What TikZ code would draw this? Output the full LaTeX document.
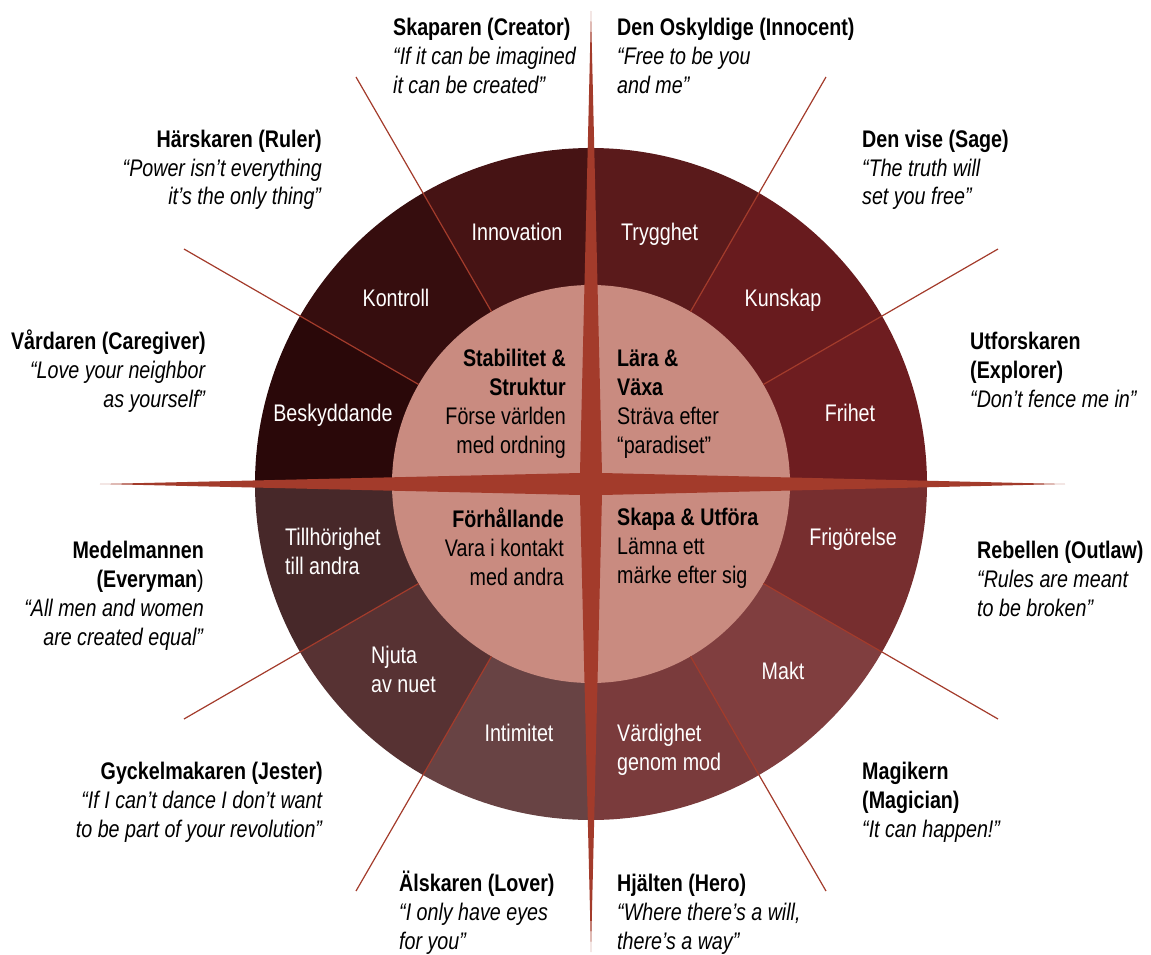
\documentclass[tikz,border=0pt]{standalone}
\usepackage{fontspec}
\setmainfont{Liberation Sans}[FakeStretch=0.82]
\usepackage{tikz}
\usetikzlibrary{calc, positioning}

\definecolor{rust}{HTML}{A33B2B}
\definecolor{core}{HTML}{C98B80}
\definecolor{sFrihet}{HTML}{6E1D20}
\definecolor{sKunskap}{HTML}{681B1E}
\definecolor{sTrygghet}{HTML}{5A1A1B}
\definecolor{sInnovation}{HTML}{461314}
\definecolor{sKontroll}{HTML}{360D0E}
\definecolor{sBeskydd}{HTML}{2A0809}
\definecolor{sTillhor}{HTML}{472829}
\definecolor{sNjuta}{HTML}{573233}
\definecolor{sIntimitet}{HTML}{684344}
\definecolor{sVardighet}{HTML}{7A3B3C}
\definecolor{sMakt}{HTML}{803E3F}
\definecolor{sFrigor}{HTML}{772E2F}

\begin{document}
\begin{tikzpicture}[
    x=1pt, y=1pt,
    every node/.style={inner sep=0pt, font=\fontsize{24}{29}\selectfont},
    seglabel/.style={text=white, align=center, anchor=base},
    segleft/.style={text=white, align=left, anchor=base west},
    corel/.style={align=left, anchor=base west},
    corer/.style={align=right, anchor=base east},
    typel/.style={align=left, anchor=base west},
    typer/.style={align=right, anchor=base east},
    ray/.style={draw=rust, line width=1.2pt},
]
    \useasboundingbox (-591,-470) rectangle (560,484);
    \coordinate (c) at (0,0);

    % Wheel segments
    \foreach \a/\col in {0/sFrihet, 30/sKunskap, 60/sTrygghet, 90/sInnovation,
                         120/sKontroll, 150/sBeskydd, 180/sTillhor, 210/sNjuta,
                         240/sIntimitet, 270/sVardighet, 300/sMakt, 330/sFrigor} {
        \fill[\col] (c) -- (\a:336) arc[start angle=\a, end angle=\a+30, radius=336] -- cycle;
    }

    % Inner circle
    \fill[core] (c) circle[radius=199];

    % Rays
    \foreach \a in {30,60,120,150,210,240,300,330} {
        \draw[ray] (\a:199) -- (\a:470);
    }

    % Star
    \fill[rust] (0,473) -- (11,11) -- (474,0) -- (11,-11) -- (0,-468)
        -- (-11,-11) -- (-491,0) -- (-11,11) -- cycle;

    % Segment labels (multi-line nodes sit on their last baseline)
    \node[seglabel] (innovation) at (-74,244) {Innovation};
    \node[segleft] (trygghet) at (30,244) {Trygghet};
    \node[seglabel] (kontroll) at (-195,178) {Kontroll};
    \node[seglabel] (kunskap) at (192,178) {Kunskap};
    \node[seglabel] (beskydd) at (-258,63) {Beskyddande};
    \node[seglabel] (frihet) at (259,63) {Frihet};
    \node[segleft] (tillhor) at (-306,-90) {Tillhörighet\\till andra};
    \node[seglabel] (frigor) at (262,-61) {Frigörelse};
    \node[segleft] (njuta) at (-220,-208) {Njuta\\av nuet};
    \node[seglabel] (makt) at (192,-195) {Makt};
    \node[seglabel] (intimitet) at (-72,-257) {Intimitet};
    \node[segleft] (vardighet) at (26,-286) {Värdighet\\genom mod};

    % Core quadrants
    \node[corer] (stabilitet) at (-25,31)
        {\textbf{Stabilitet \&}\\\textbf{Struktur}\\Förse världen\\med ordning};
    \node[corel] (lara) at (26,31)
        {\textbf{Lära \&}\\\textbf{Växa}\\Sträva efter\\“paradiset”};
    \node[corer] (forhall) at (-27,-101)
        {\textbf{Förhållande}\\Vara i kontakt\\med andra};
    \node[corel] (skapa) at (26,-99)
        {\textbf{Skapa \& Utföra}\\Lämna ett\\märke efter sig};

    % Archetypes
    \node[typel] (creator) at (-198,390)
        {\textbf{Skaparen (Creator)}\\\textit{“If it can be imagined}\\\textit{it can be created”}};
    \node[typel] (innocent) at (26,390)
        {\textbf{Den Oskyldige (Innocent)}\\\textit{“Free to be you}\\\textit{and me”}};
    \node[typer] (ruler) at (-269,279)
        {\textbf{Härskaren (Ruler)}\\\textit{“Power isn’t everything}\\\textit{it’s the only thing”}};
    \node[typel] (sage) at (271,279)
        {\textbf{Den vise (Sage)}\\\textit{“The truth will}\\\textit{set you free”}};
    \node[typer] (caregiver) at (-385,77)
        {\textbf{Vårdaren (Caregiver)}\\\textit{“Love your neighbor}\\\textit{as yourself”}};
    \node[typel] (explorer) at (379,77)
        {\textbf{Utforskaren}\\\textbf{(Explorer)}\\\textit{“Don’t fence me in”}};
    \node[typer] (everyman) at (-387,-161)
        {\textbf{Medelmannen}\\\textbf{(Everyman}\textmd{)}\\\textit{“All men and women}\\\textit{are created equal”}};
    \node[typel] (outlaw) at (386,-132)
        {\textbf{Rebellen (Outlaw)}\\\textit{“Rules are meant}\\\textit{to be broken”}};
    \node[typer] (jester) at (-268,-353)
        {\textbf{Gyckelmakaren (Jester)}\\\textit{“If I can’t dance I don’t want}\\\textit{to be part of your revolution”}};
    \node[typel] (magician) at (271,-353)
        {\textbf{Magikern}\\\textbf{(Magician)}\\\textit{“It can happen!”}};
    \node[typel] (lover) at (-192,-465)
        {\textbf{Älskaren (Lover)}\\\textit{“I only have eyes}\\\textit{for you”}};
    \node[typel] (hero) at (26,-465)
        {\textbf{Hjälten (Hero)}\\\textit{“Where there’s a will,}\\\textit{there’s a way”}};

\end{tikzpicture}
\end{document}
